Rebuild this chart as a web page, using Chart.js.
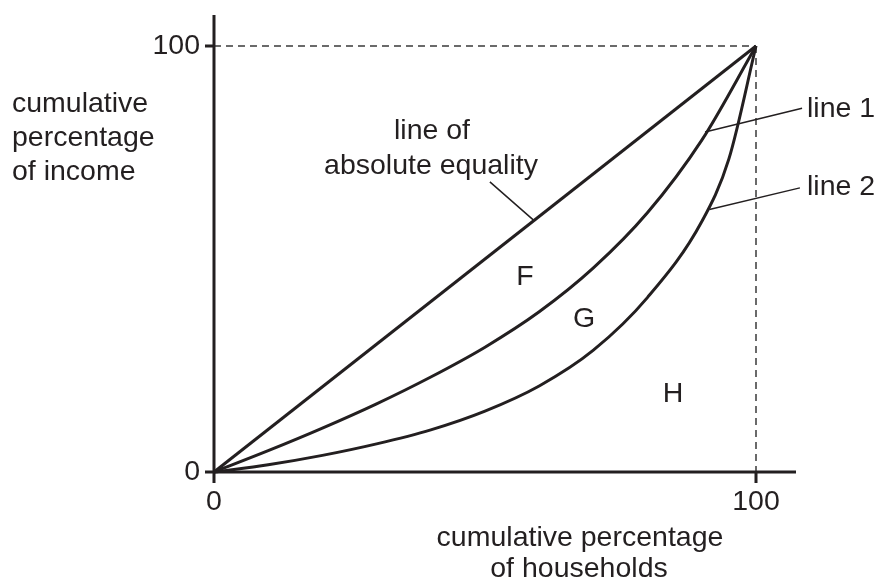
<!DOCTYPE html>
<html>
<head>
<meta charset="utf-8">
<script src="https://cdn.jsdelivr.net/npm/chart.js@4.4.1/dist/chart.umd.min.js"></script>
<style>
  html, body { margin: 0; padding: 0; background: #fff; }
  #lorenz { display: block; }
</style>
</head>
<body>
<canvas id="lorenz" width="878" height="582"></canvas>
<script>
// Lorenz curves: cumulative % of households (x) vs cumulative % of income (y)

const equalityX = [0, 100];
const equalityY = [0, 100];

const line1X = [0, 10, 20, 30, 40, 50, 60, 70, 80, 90, 100];
const line1Y = [0, 5.0, 10.3, 16.0, 22.3, 29.3, 37.6, 47.9, 60.9, 77.9, 100];

const line2X = [0, 10, 20, 30, 40, 50, 60, 70, 80, 90, 95, 100];
const line2Y = [0, 1.7, 3.9, 6.6, 9.9, 14.3, 20.2, 28.6, 41.0, 58.8, 73.5, 100];

const tickValues = [0, 100];
const tickLabels = ['0', '100'];

const INK = '#231f20';
const FONT = '28.5px "Liberation Sans", Arial, sans-serif';

function toPoints(xs, ys) {
  return xs.map((x, i) => ({ x: x, y: ys[i] }));
}

function lineSet(xs, ys) {
  return {
    data: toPoints(xs, ys),
    showLine: true,
    borderColor: INK,
    borderWidth: 3,
    pointRadius: 0,
    cubicInterpolationMode: 'monotone',
    fill: false,
  };
}

// axes, ticks, dashed guides
const axesPlugin = {
  id: 'axes',
  beforeDatasetsDraw(chart) {
    const { ctx, chartArea, scales: { x, y } } = chart;
    const x0 = x.getPixelForValue(0), x100 = x.getPixelForValue(100);
    const y0 = y.getPixelForValue(0), y100 = y.getPixelForValue(100);
    ctx.save();
    // dashed guides to (100,100)
    ctx.strokeStyle = '#3a3a3a';
    ctx.lineWidth = 1.5;
    ctx.setLineDash([7, 5]);
    ctx.beginPath();
    ctx.moveTo(x0, y100); ctx.lineTo(x100, y100);
    ctx.moveTo(x100, y100); ctx.lineTo(x100, y0);
    ctx.stroke();
    ctx.setLineDash([]);
    // axis lines
    ctx.strokeStyle = INK;
    ctx.lineWidth = 3;
    ctx.beginPath();
    ctx.moveTo(chartArea.left, y0); ctx.lineTo(chartArea.right, y0);
    ctx.moveTo(x0, chartArea.top); ctx.lineTo(x0, chartArea.bottom);
    // tick marks at 100
    ctx.moveTo(x0 - 9, y100); ctx.lineTo(x0, y100);
    ctx.moveTo(x100, y0); ctx.lineTo(x100, y0 + 11);
    ctx.stroke();
    // tick labels
    ctx.fillStyle = INK;
    ctx.font = FONT;
    ctx.textAlign = 'right';
    ctx.textBaseline = 'middle';
    tickValues.forEach((v, i) => ctx.fillText(tickLabels[i], x0 - 14, y.getPixelForValue(v)));
    ctx.textAlign = 'center';
    ctx.textBaseline = 'alphabetic';
    tickValues.forEach((v, i) => ctx.fillText(tickLabels[i], x.getPixelForValue(v), y0 + 38));
    ctx.restore();
  },
  afterDraw(chart) {
    const { ctx, scales: { x, y } } = chart;
    const px = v => x.getPixelForValue(v);
    const py = v => y.getPixelForValue(v);
    ctx.save();
    // leader lines
    ctx.strokeStyle = INK;
    ctx.lineWidth = 1.5;
    ctx.beginPath();
    ctx.moveTo(px(50.9), py(68.1)); ctx.lineTo(px(58.9), py(59.2));
    ctx.moveTo(px(108.5), py(85.4)); ctx.lineTo(px(90.6), py(79.8));
    ctx.moveTo(px(108.1), py(66.7)); ctx.lineTo(px(91.4), py(61.6));
    ctx.stroke();

    ctx.fillStyle = INK;
    ctx.font = FONT;
    ctx.textBaseline = 'alphabetic';
    ctx.textAlign = 'left';
    ctx.fillText('cumulative', 12, 112);
    ctx.fillText('percentage', 12, 146);
    ctx.fillText('of income', 12, 180);
    ctx.fillText('line 1', 807, 117);
    ctx.fillText('line 2', 807, 195);

    ctx.textAlign = 'center';
    ctx.fillText('line of', 432, 139);
    ctx.fillText('absolute equality', 431, 174);
    ctx.fillText('cumulative percentage', 580, 546);
    ctx.fillText('of households', 579, 577);
    ctx.fillText('F', 525, 285);
    ctx.fillText('G', 584, 327);
    ctx.fillText('H', 673, 402);
    ctx.restore();
  },
};

new Chart(document.getElementById('lorenz'), {
  type: 'scatter',
  data: {
    datasets: [
      lineSet(equalityX, equalityY),
      lineSet(line1X, line1Y),
      lineSet(line2X, line2Y),
    ],
  },
  options: {
    responsive: false,
    animation: false,
    layout: { padding: { left: 205, right: 82, top: 15, bottom: 99 } },
    scales: {
      x: { type: 'linear', min: -1.66, max: 107.38, display: false },
      y: { type: 'linear', min: -2.58, max: 107.28, display: false },
    },
    plugins: { legend: { display: false }, tooltip: { enabled: false } },
  },
  plugins: [axesPlugin],
});
</script>
</body>
</html>
